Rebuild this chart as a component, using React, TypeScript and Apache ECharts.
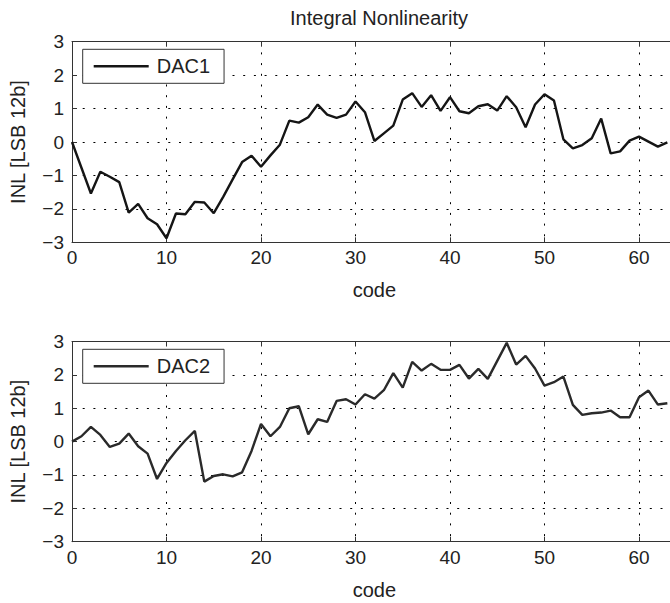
import React, { useEffect, useRef } from "react";
import * as echarts from "echarts";

const titleText = "Integral Nonlinearity";
const xName = "code";
const yName = "INL [LSB 12b]";
const seriesNames = ["DAC1", "DAC2"];

const dac1: number[] = [
  0, -0.77, -1.54, -0.89, -1.04, -1.2, -2.11, -1.85, -2.28, -2.46,
  -2.88, -2.14, -2.16, -1.79, -1.81, -2.13, -1.64, -1.12, -0.6, -0.41,
  -0.74, -0.4, -0.08, 0.64, 0.58, 0.74, 1.12, 0.82, 0.72, 0.82,
  1.21, 0.89, 0.03, 0.26, 0.49, 1.27, 1.46, 1.05, 1.4, 0.93,
  1.34, 0.92, 0.86, 1.07, 1.13, 0.94, 1.37, 1.04, 0.44, 1.12,
  1.43, 1.24, 0.08, -0.19, -0.09, 0.11, 0.7, -0.34, -0.28, 0.04,
  0.16, 0.01, -0.14, -0.01,
];

const dac2: number[] = [
  0, 0.16, 0.44, 0.2, -0.16, -0.06, 0.24, -0.14, -0.36, -1.12,
  -0.64, -0.28, 0.04, 0.32, -1.2, -1.03, -0.98, -1.04, -0.92, -0.28,
  0.53, 0.16, 0.44, 1.0, 1.06, 0.22, 0.67, 0.59, 1.22, 1.27,
  1.11, 1.42, 1.29, 1.54, 2.05, 1.62, 2.39, 2.13, 2.33, 2.15,
  2.15, 2.3, 1.89, 2.18, 1.88, 2.42, 2.96, 2.31, 2.57, 2.19,
  1.68, 1.78, 1.95, 1.1, 0.8, 0.85, 0.87, 0.93, 0.73, 0.73,
  1.33, 1.53, 1.11, 1.15,
];

const FONT = "'Liberation Sans', Arial, Helvetica, sans-serif";
const TXT = "#222";
const AX = "#333";

function fmtY(v: number): string {
  return v < 0 ? "\u2212" + Math.abs(v) : String(v);
}

export default function App() {
  const ref = useRef<HTMLDivElement>(null);
  useEffect(() => {
    if (!ref.current) return;
    const chart = echarts.init(ref.current, undefined, { renderer: "svg" });
    const grids = [
      { left: 72, top: 41.7, width: 604.8, height: 200.6 },
      { left: 72, top: 341.5, width: 604.8, height: 200.2 },
    ];
    const dotted = { type: [2, 8.7] as any, color: "#000", width: 1 };
    const mkX = (gi: number) => ({
      gridIndex: gi,
      type: "value",
      min: 0,
      max: 64,
      interval: 10,
      position: "bottom",
      axisLine: { show: true, onZero: false, lineStyle: { color: AX, width: 1 } },
      axisTick: { show: true, inside: true, length: 5, lineStyle: { color: AX } },
      axisLabel: { fontSize: 19, color: TXT, fontFamily: FONT, margin: 6, showMaxLabel: false },
      splitLine: { show: true, lineStyle: dotted },
      name: xName,
      nameLocation: "middle",
      nameGap: 38,
      nameTextStyle: { fontSize: 20, color: TXT, fontFamily: FONT },
    });
    const mkXTop = (gi: number) => ({
      gridIndex: gi,
      type: "value",
      min: 0,
      max: 64,
      interval: 10,
      position: "top",
      axisLine: { show: true, onZero: false, lineStyle: { color: AX, width: 1 } },
      axisTick: { show: true, inside: true, length: 5, lineStyle: { color: AX } },
      axisLabel: { show: false },
      splitLine: { show: false },
    });
    const mkY = (gi: number) => ({
      gridIndex: gi,
      type: "value",
      min: -3,
      max: 3,
      interval: 1,
      axisLine: { show: true, onZero: false, lineStyle: { color: AX, width: 1 } },
      axisTick: { show: true, inside: true, length: 5, lineStyle: { color: AX } },
      axisLabel: { fontSize: 19, color: TXT, fontFamily: FONT, margin: 8, formatter: fmtY },
      splitLine: { show: true, lineStyle: dotted },
      name: yName,
      nameLocation: "middle",
      nameGap: 44,
      nameRotate: 90,
      nameTextStyle: { fontSize: 20, color: TXT, fontFamily: FONT },
    });
    const mkLegend = (name: string, top: number) => ({
      data: [name],
      left: 82.7,
      top,
      orient: "horizontal",
      icon: "rect",
      itemWidth: 55,
      itemHeight: 2.5,
      padding: [7, 14, 7, 11],
      borderColor: AX,
      borderWidth: 1,
      borderRadius: 0,
      backgroundColor: "#fff",
      selectedMode: false,
      textStyle: { fontSize: 20, color: TXT, fontFamily: FONT, padding: [0, 0, 0, 3] },
    });
    const toPairs = (arr: number[]) => arr.map((v, i) => [i, v]);
    chart.setOption({
      animation: false,
      backgroundColor: "#fff",
      title: {
        text: titleText,
        left: 374,
        textAlign: "center",
        top: 3,
        textStyle: { fontSize: 20, fontWeight: "normal", color: TXT, fontFamily: FONT },
      },
      grid: grids,
      xAxis: [mkX(0), mkX(1), mkXTop(0), mkXTop(1)],
      yAxis: [mkY(0), mkY(1)],
      legend: [mkLegend(seriesNames[0], 49.3), mkLegend(seriesNames[1], 349.3)],
      series: [
        {
          name: seriesNames[0],
          type: "line",
          xAxisIndex: 0,
          yAxisIndex: 0,
          data: toPairs(dac1),
          symbol: "none",
          itemStyle: { color: "#151515" },
          lineStyle: { color: "#151515", width: 2.4 },
        },
        {
          name: seriesNames[1],
          type: "line",
          xAxisIndex: 1,
          yAxisIndex: 1,
          data: toPairs(dac2),
          symbol: "none",
          itemStyle: { color: "#2a2a2a" },
          lineStyle: { color: "#2a2a2a", width: 2.4 },
        },
      ],
    } as any);
    return () => chart.dispose();
  }, []);
  return (
    <div
      ref={ref}
      style={{ position: "fixed", left: 0, top: 0, width: 680, height: 603, background: "#fff" }}
    />
  );
}
